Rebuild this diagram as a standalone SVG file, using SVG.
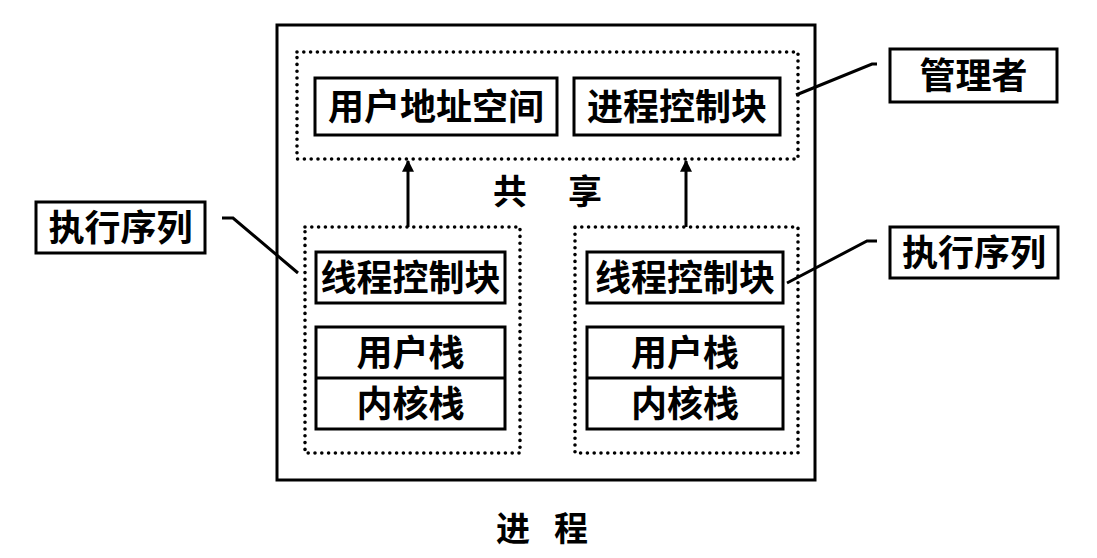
<svg xmlns="http://www.w3.org/2000/svg" width="1097" height="558" viewBox="0 0 1097 558">
<style>
text{font-family:"Noto Sans CJK SC","Noto Sans",sans-serif;font-weight:700;font-size:36px;fill:#000;text-anchor:middle}
.box{fill:none;stroke:#000;stroke-width:3}
.dot{fill:none;stroke:#000;stroke-width:3.6;stroke-linecap:round;stroke-dasharray:0 6.8}
.ln{fill:none;stroke:#000;stroke-width:3}
</style>
<defs>
<marker id="ah" viewBox="0 0 10 10" refX="9" refY="5" markerWidth="4" markerHeight="4" orient="auto" markerUnits="strokeWidth">
<path d="M0,0 L10,5 L0,10 z" fill="#000"/>
</marker>
</defs>
<rect width="1097" height="558" fill="#fff"/>
<g id="process">
<rect class="box" x="277" y="25" width="538" height="455"/>
<text x="513" y="541" style="font-size:34px">进</text>
<text x="571" y="541" style="font-size:34px">程</text>
</g>
<g id="shared">
<rect class="dot" x="297" y="52" width="501" height="107"/>
<text x="510" y="204" style="font-size:34px">共</text>
<text x="585" y="204" style="font-size:34px">享</text>
</g>
<g id="user-addr">
<rect class="box" x="315" y="78" width="242" height="57"/>
<text x="436" y="120">用户地址空间</text>
</g>
<g id="pcb">
<rect class="box" x="574" y="78" width="206" height="57"/>
<text x="677" y="120">进程控制块</text>
</g>
<g id="thread1">
<rect class="dot" x="305" y="227" width="215" height="226"/>
<rect class="box" x="316" y="252" width="189" height="51"/>
<text x="410.5" y="291">线程控制块</text>
<rect class="box" x="316" y="327" width="189" height="102"/>
<line class="ln" x1="316" y1="378" x2="505" y2="378"/>
<text x="410.5" y="366">用户栈</text>
<text x="410.5" y="417">内核栈</text>
</g>
<g id="thread2">
<rect class="dot" x="575" y="227" width="223" height="226"/>
<rect class="box" x="587" y="252" width="196" height="51"/>
<text x="685" y="291">线程控制块</text>
<rect class="box" x="587" y="327" width="196" height="102"/>
<line class="ln" x1="587" y1="378" x2="783" y2="378"/>
<text x="685" y="366">用户栈</text>
<text x="685" y="417">内核栈</text>
</g>
<g id="exec-left">
<rect class="box" x="36" y="202" width="169" height="51"/>
<text x="120.5" y="241">执行序列</text>
</g>
<g id="exec-right">
<rect class="box" x="890" y="227" width="168" height="51"/>
<text x="974" y="266">执行序列</text>
</g>
<g id="manager">
<rect class="box" x="890" y="49" width="167" height="53"/>
<text x="973.5" y="89">管理者</text>
</g>
<g id="connectors">
<line class="ln" x1="408" y1="227" x2="408" y2="161" marker-end="url(#ah)"/>
<line class="ln" x1="686" y1="227" x2="686" y2="161" marker-end="url(#ah)"/>
<polyline class="ln" points="222,218 233,218 298,273"/>
<polyline class="ln" points="787,283 867,241 877,241"/>
<polyline class="ln" points="796,95 872,64 877,64"/>
</g>
</svg>
